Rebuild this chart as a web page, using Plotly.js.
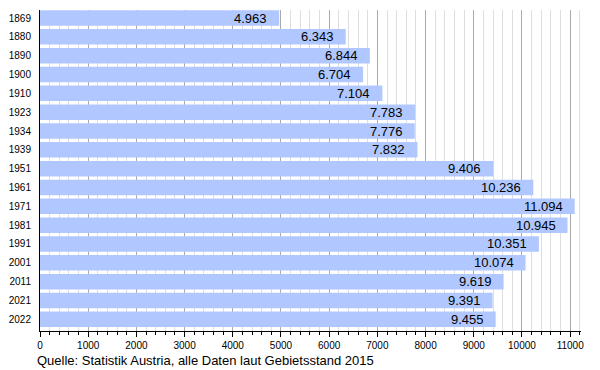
<!DOCTYPE html>
<html>
<head>
<meta charset="utf-8">
<script src="https://cdn.plot.ly/plotly-3.0.1.min.js"></script>
<style>
  html, body { margin: 0; padding: 0; background: #fff; }
  #chart { width: 600px; height: 370px; }
</style>
</head>
<body>
<div id="chart"></div>
<script>
const years = ["1869","1880","1890","1900","1910","1923","1934","1939","1951","1961","1971","1981","1991","2001","2011","2021","2022"];
const population = [4963, 6343, 6844, 6704, 7104, 7783, 7776, 7832, 9406, 10236, 11094, 10945, 10351, 10074, 9619, 9391, 9455];
const xTickVals = [0,1000,2000,3000,4000,5000,6000,7000,8000,9000,10000,11000];
const caption = "Quelle: Statistik Austria, alle Daten laut Gebietsstand 2015";

function fmt(v) {
  const s = String(v);
  return s.slice(0, s.length - 3) + "." + s.slice(s.length - 3);
}

const FONT = "Liberation Sans, Arial, sans-serif";

const trace = {
  type: "bar",
  orientation: "h",
  x: population,
  y: years,
  marker: { color: "rgb(176,200,255)", line: { width: 0 } },
  hoverinfo: "none"
};

const annotations = years.map((y, i) => ({
  x: population[i],
  y: i,
  xref: "x",
  yref: "y",
  text: fmt(population[i]),
  showarrow: false,
  xanchor: "right",
  yanchor: "middle",
  xshift: -10,
  font: { family: FONT, size: 13, color: "#000" }
}));

annotations.push({
  xref: "paper", yref: "paper",
  x: -0.01, y: -0.091,
  xanchor: "left", yanchor: "middle",
  text: caption,
  showarrow: false,
  font: { family: FONT, size: 13, color: "#000" }
});

const layout = {
  width: 600,
  height: 370,
  margin: { l: 40, r: 19, t: 10, b: 39 },
  paper_bgcolor: "#fff",
  plot_bgcolor: "#fff",
  showlegend: false,
  bargap: 0.18,
  font: { family: FONT, size: 10, color: "#000" },
  xaxis: {
    range: [0, 11225],
    tickvals: xTickVals,
    ticktext: xTickVals.map(String),
    showgrid: true,
    gridcolor: "#aaaaaa",
    gridwidth: 1,
    zeroline: false,
    showline: true,
    linecolor: "#000",
    linewidth: 1,
    ticks: "outside",
    ticklen: 5,
    tickcolor: "#000",
    tickfont: { family: FONT, size: 10, color: "#000" },
    minor: {
      dtick: 200,
      tick0: 0,
      ticks: "outside",
      ticklen: 3,
      tickcolor: "#000",
      showgrid: true,
      gridcolor: "#dedede",
      gridwidth: 1
    },
    fixedrange: true
  },
  yaxis: {
    type: "category",
    categoryorder: "array",
    categoryarray: years,
    range: [16.62, -0.425],
    showgrid: false,
    zeroline: false,
    showline: true,
    linecolor: "#000",
    linewidth: 1,
    ticks: "",
    ticklabelstandoff: 6,
    tickfont: { family: FONT, size: 10, color: "#000" },
    fixedrange: true
  },
  annotations: annotations
};

Plotly.newPlot("chart", [trace], layout, { displayModeBar: false, staticPlot: true });
</script>
</body>
</html>
